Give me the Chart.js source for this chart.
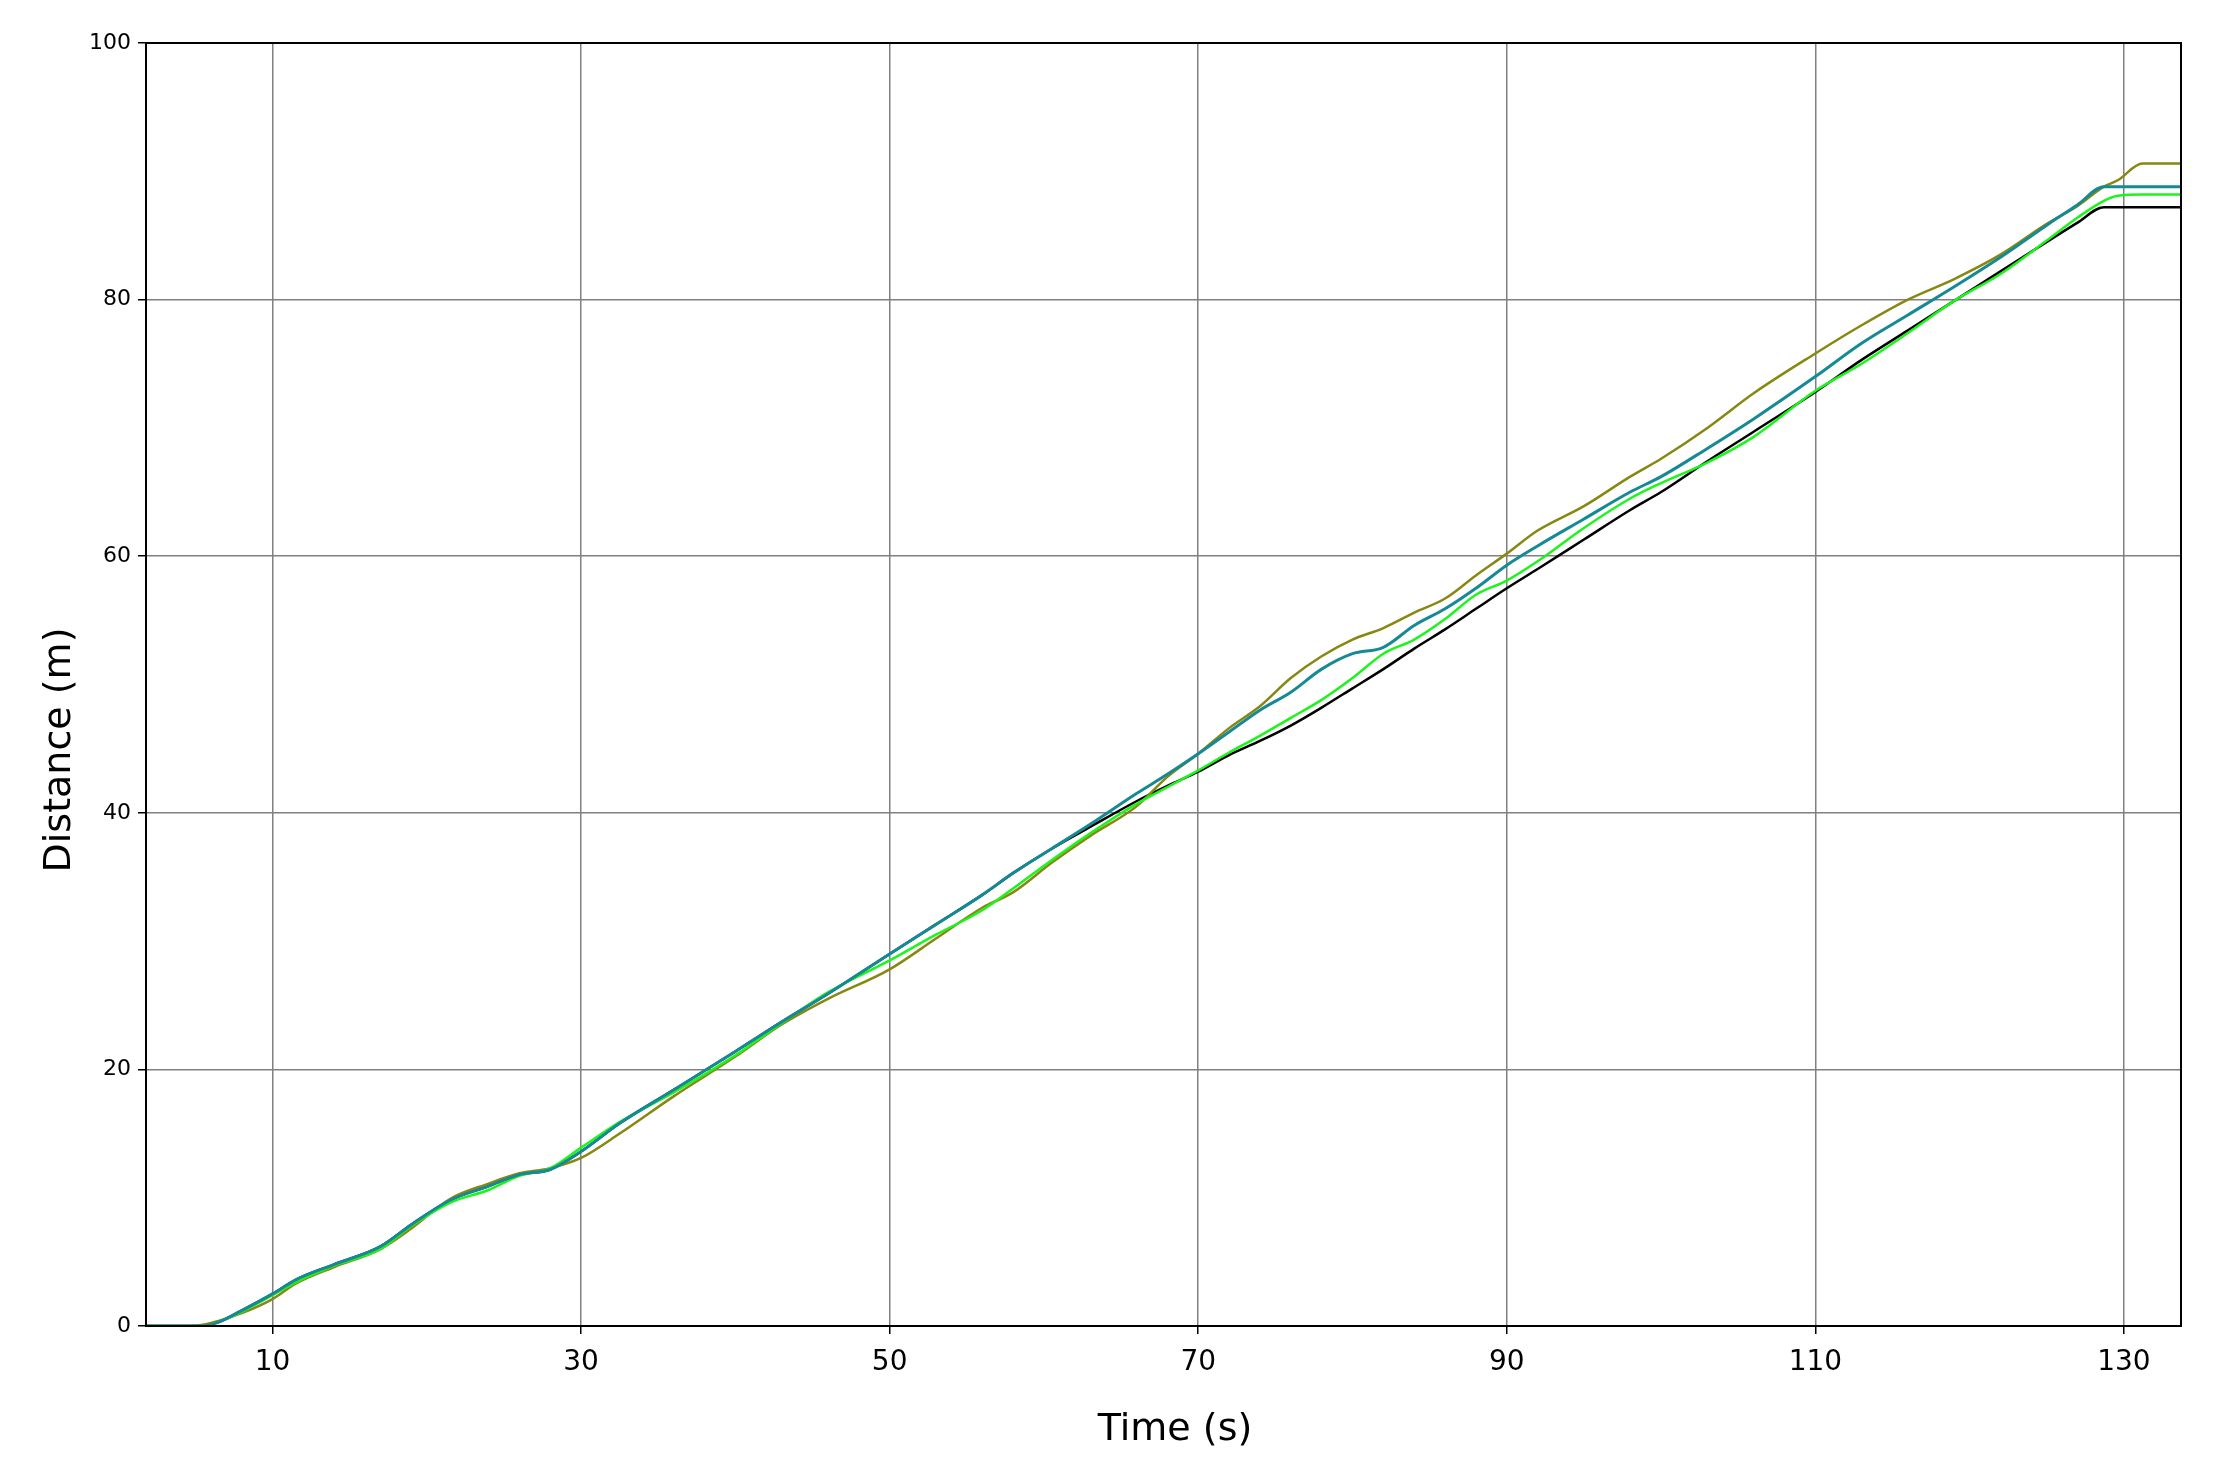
<!DOCTYPE html>
<html>
<head>
<meta charset="utf-8">
<title>Distance vs Time</title>
<script src="https://cdn.jsdelivr.net/npm/chart.js@4.4.1/dist/chart.umd.min.js"></script>
<style>
  html, body { margin: 0; padding: 0; background: #fff; }
  canvas { display: block; }
</style>
</head>
<body>
<canvas id="distChart" width="2231" height="1484"></canvas>
<script>
// Time samples (s) shared by all runs
const times = [1.8, 4, 5.5, 6.5, 8, 10, 11.5, 14, 17, 19, 21.5, 24, 26, 28, 30, 32.5, 36, 40, 43, 46,
  50, 53, 56, 58, 60.5, 63, 66, 68, 70, 72, 74, 76, 78, 80, 82, 84, 86, 88, 90, 92,
  95, 98, 100, 103, 106, 110, 113, 116, 119, 122, 125, 127, 128.7, 129.6, 131.2, 133.7];

// Distance (m) for each run
const tealRun = [0, 0, 0, 0.3, 1.2, 2.5, 3.6, 4.8, 6.2, 7.9, 9.8, 10.9, 11.8, 12.2, 13.6, 15.8, 18.4, 21.4, 23.7, 25.9,
  29.0, 31.3, 33.6, 35.3, 37.2, 39.1, 41.5, 43.0, 44.6, 46.3, 48.0, 49.4, 51.2, 52.4, 52.9, 54.6, 55.9, 57.5, 59.3, 60.8,
  62.9, 65.0, 66.2, 68.4, 70.7, 74.0, 76.6, 78.8, 81.0, 83.3, 85.8, 87.4, 88.8, 88.8, 88.8, 88.8];

const oliveRun = [0, 0, 0.1, 0.4, 1.0, 2.1, 3.3, 4.6, 6.0, 7.6, 9.9, 11.1, 11.9, 12.3, 13.1, 15.0, 17.9, 21.0, 23.5, 25.5,
  27.8, 30.2, 32.6, 33.8, 36.1, 38.2, 40.5, 42.8, 44.6, 46.6, 48.3, 50.5, 52.2, 53.5, 54.4, 55.6, 56.7, 58.5, 60.2, 62.0,
  63.9, 66.2, 67.6, 70.0, 72.7, 75.8, 78.0, 80.0, 81.6, 83.5, 85.9, 87.3, 88.8, 89.3, 90.6, 90.6];

const greenRun = [0, 0, 0, 0.3, 1.1, 2.4, 3.4, 4.7, 6.0, 7.8, 9.6, 10.6, 11.7, 12.3, 13.9, 15.9, 18.2, 21.1, 23.6, 26.0,
  28.5, 30.5, 32.4, 34.1, 36.3, 38.4, 40.7, 42.0, 43.3, 44.7, 46.0, 47.4, 48.8, 50.5, 52.4, 53.5, 55.1, 57.0, 58.1, 59.6,
  62.2, 64.5, 65.7, 67.3, 69.3, 72.9, 75.0, 77.4, 79.9, 82.0, 84.6, 86.4, 87.7, 88.1, 88.2, 88.2];

const blackRun = [0, 0, 0, 0.3, 1.2, 2.5, 3.6, 4.8, 6.2, 7.9, 9.8, 10.9, 11.8, 12.2, 13.6, 15.8, 18.4, 21.4, 23.7, 25.9,
  29.0, 31.3, 33.6, 35.3, 37.2, 38.9, 40.9, 42.1, 43.2, 44.5, 45.6, 46.8, 48.2, 49.7, 51.2, 52.8, 54.3, 55.9, 57.5, 59.0,
  61.3, 63.6, 65.0, 67.4, 69.7, 72.8, 75.3, 77.6, 79.9, 82.2, 84.5, 86.0, 87.2, 87.2, 87.2, 87.2];

// Axis ticks
const xTicks = [10, 30, 50, 70, 90, 110, 130];
const yTicks = [0, 20, 40, 60, 80, 100];

function toPoints(values) {
  return values.map((v, i) => ({ x: times[i], y: v }));
}

// frame around plot + axis titles
const framePlugin = {
  id: 'frame',
  afterDraw(chart) {
    const { ctx, chartArea } = chart;
    ctx.save();
    ctx.strokeStyle = '#000';
    ctx.lineWidth = 2;
    ctx.strokeRect(chartArea.left, chartArea.top, chartArea.right - chartArea.left, chartArea.bottom - chartArea.top);

    ctx.fillStyle = '#000';
    ctx.font = '38px "DejaVu Sans"';
    ctx.textAlign = 'center';
    ctx.textBaseline = 'middle';
    ctx.fillText('Time (s)', 1175, 1430);

    ctx.translate(60, 750);
    ctx.rotate(-Math.PI / 2);
    ctx.fillText('Distance (m)', 0, 0);
    ctx.restore();
  }
};

function drawChart() {
  const ctx = document.getElementById('distChart').getContext('2d');
  new Chart(ctx, {
    type: 'line',
    data: {
      datasets: [
        { label: 'teal', data: toPoints(tealRun), borderColor: '#168a94', borderWidth: 3 },
        { label: 'green', data: toPoints(greenRun), borderColor: '#1cf51c', borderWidth: 2.5 },
        { label: 'olive', data: toPoints(oliveRun), borderColor: '#878712', borderWidth: 2.5 },
        { label: 'black', data: toPoints(blackRun), borderColor: '#000000', borderWidth: 2.5 }
      ]
    },
    options: {
      responsive: false,
      animation: false,
      layout: { padding: { top: 43, right: 50, left: 0, bottom: 0 } },
      elements: {
        point: { radius: 0 },
        line: { cubicInterpolationMode: 'monotone', fill: false }
      },
      plugins: {
        legend: { display: false },
        tooltip: { enabled: false }
      },
      scales: {
        x: {
          type: 'linear',
          min: 1.8,
          max: 133.7,
          afterBuildTicks: scale => { scale.ticks = xTicks.map(v => ({ value: v })); },
          afterFit: scale => { scale.height = 158; },
          ticks: {
            color: '#000',
            font: { family: 'DejaVu Sans', size: 28 },
            padding: 12,
            maxRotation: 0
          },
          grid: { color: '#808080', lineWidth: 1.5, tickColor: '#000', tickLength: 8 },
          border: { color: '#000', width: 2 }
        },
        y: {
          min: 0,
          max: 100,
          afterBuildTicks: scale => { scale.ticks = yTicks.map(v => ({ value: v })); },
          afterFit: scale => { scale.width = 146; },
          ticks: {
            color: '#000',
            font: { family: 'DejaVu Sans', size: 22 },
            padding: 7
          },
          grid: { color: '#808080', lineWidth: 1.5, tickColor: '#000', tickLength: 8 },
          border: { color: '#000', width: 2 }
        }
      }
    },
    plugins: [framePlugin]
  });
}

window.onload = function() {
  drawChart();
};
</script>
</body>
</html>
